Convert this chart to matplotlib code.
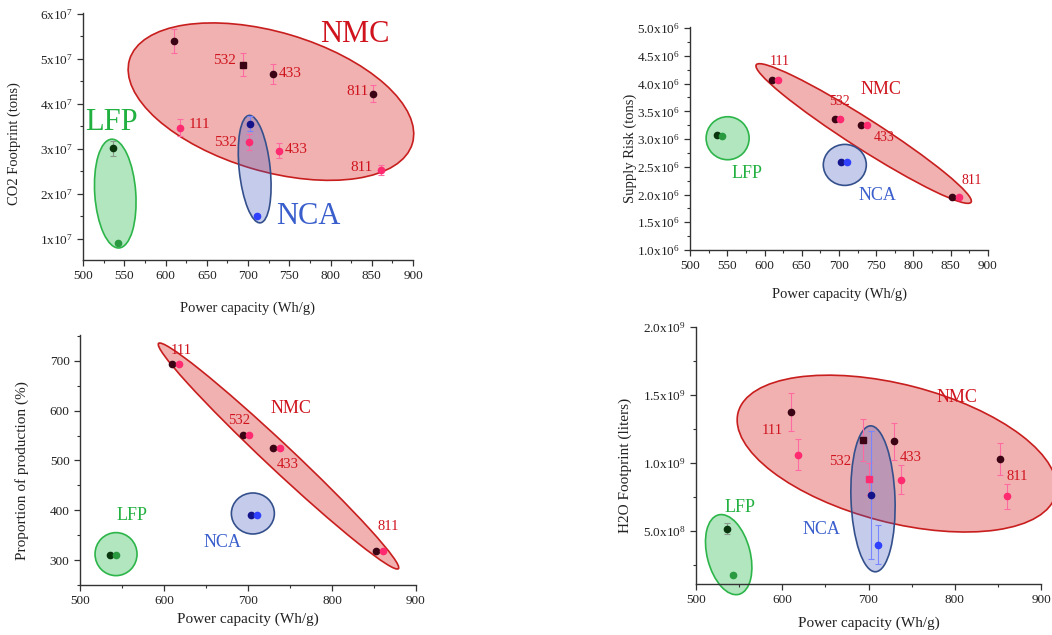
import numpy as np
import matplotlib
matplotlib.use("Agg")
import matplotlib.pyplot as plt
from matplotlib.patches import Ellipse
from matplotlib.transforms import ScaledTranslation
from matplotlib.ticker import MultipleLocator, FixedLocator

plt.rcParams['font.family'] = ['Liberation Serif', 'DejaVu Serif']
plt.rcParams['mathtext.default'] = 'regular'

# power capacity (Wh/g) of each chemistry, two cases per chemistry
nmc_grades = ["111", "532", "433", "811"]
x_nmc_a = [610, 694, 730, 852]
x_nmc_b = [618, 701, 738, 861]
x_nca = [703, 711]
x_lfp = [536, 543]

# CO2 footprint (tons)
co2_nmc_a = [5.40e7, 4.87e7, 4.67e7, 4.23e7]
co2_nmc_a_err = [0.26e7, 0.25e7, 0.22e7, 0.19e7]
co2_nmc_b = [3.47e7, 3.15e7, 2.96e7, 2.53e7]
co2_nmc_b_err = [0.19e7, 0.17e7, 0.16e7, 0.12e7]
co2_nca = [3.56e7, 1.51e7]
co2_nca_err = [0.17e7, 0.05e7]
co2_lfp = [3.01e7, 0.91e7]
co2_lfp_err = [0.16e7, 0.03e7]

# supply risk (tons)
risk_nmc = [4.06e6, 3.36e6, 3.25e6, 1.96e6]
risk_nca = [2.59e6, 2.58e6]
risk_lfp = [3.07e6, 3.06e6]

# proportion of production (%)
prod_nmc = [694, 551, 525, 319]
prod_nca = [390, 390]
prod_lfp = [311, 311]

# H2O footprint (liters)
h2o_nmc_a = [1.375e9, 1.167e9, 1.159e9, 1.029e9]
h2o_nmc_a_err = [0.143e9, 0.156e9, 0.135e9, 0.119e9]
h2o_nmc_b = [1.061e9, 0.885e9, 0.877e9, 0.755e9]
h2o_nmc_b_err = [0.113e9, 0.118e9, 0.107e9, 0.09e9]
h2o_nca = [0.765e9, 0.40e9]
h2o_nca_err = [0.468e9, 0.142e9]
h2o_lfp = [0.515e9, 0.179e9]
h2o_lfp_err = [0.04e9, 0.01e9]

RED = '#d0141e'
GREEN = '#22b040'
BLUE = '#3a5fcd'

fig = plt.figure(figsize=(10.52, 6.35), dpi=100)


def style_axes(ax, xmaj, xmin, ymaj, ymin):
    for s in ['top', 'right']:
        ax.spines[s].set_visible(False)
    for s in ['left', 'bottom']:
        ax.spines[s].set_color('#333333')
        ax.spines[s].set_linewidth(1.0)
    ax.xaxis.set_major_locator(MultipleLocator(xmaj))
    ax.xaxis.set_minor_locator(MultipleLocator(xmin))
    ax.yaxis.set_major_locator(MultipleLocator(ymaj))
    ax.yaxis.set_minor_locator(MultipleLocator(ymin))
    ax.tick_params(which='major', direction='out', length=4, width=0.9,
                   labelsize=9.5, colors='#333333', labelcolor='#222222')
    ax.tick_params(which='minor', direction='out', length=2, width=0.8,
                   colors='#333333')


def blob(ax, cx, cy, w, h, ang, face, edge):
    # ellipse centred on a data point, sized in pixels
    tr = fig.dpi_scale_trans + ScaledTranslation(cx, cy, ax.transData)
    e = Ellipse((0, 0), w / 100, h / 100, angle=ang, transform=tr,
                facecolor=face, edgecolor=edge, lw=1.2, clip_on=False, zorder=1)
    ax.add_patch(e)


def pts(ax, x, y, err, c_dark, c_light, c_err, square=()):
    for i in range(len(x)):
        col = c_dark if i % 2 == 0 else c_light
        mk = 's' if i in square else 'o'
        ax.errorbar(x[i], y[i], yerr=None if err is None else err[i], fmt=mk,
                    ms=4.5 if mk == 'o' else 4, color=col, mec=col,
                    ecolor=c_err, elinewidth=0.8, capsize=2, capthick=0.8,
                    zorder=3, clip_on=False)


NMC_FACE = (0.86, 0.2, 0.2, 0.38)
LFP_FACE = (0.2, 0.75, 0.35, 0.38)
NCA_FACE = (0.25, 0.35, 0.75, 0.30)
NMC_EDGE = '#c81e1e'
LFP_EDGE = '#2db54a'
NCA_EDGE = '#34508c'

NMC_DARK, NMC_PINK, NMC_ERR = '#3a0414', '#ff2a70', '#ff6aa0'
NCA_DARK, NCA_BLUE, NCA_ERR = '#14148a', '#3040ff', '#7a86ff'
LFP_DARK, LFP_GRN, LFP_ERR = '#0a360e', '#2a9a40', '#8a9a8a'

# ---------------- CO2 footprint ----------------
ax1 = fig.add_axes([83 / 1052, 1 - 260 / 635, 330 / 1052, 247 / 635])
style_axes(ax1, 50, 25, 1e7, 0.5e7)
ax1.set_xlim(500, 900)
ax1.set_ylim(0.53e7, 6.02e7)
ax1.yaxis.set_major_formatter(plt.FuncFormatter(
    lambda v, p: '%dx10$^{7}$' % round(v / 1e7)))
blob(ax1, 727.8, 4.05e7, 295, 139, -16.5, NMC_FACE, NMC_EDGE)
blob(ax1, 539.1, 2.006e7, 41, 109, 4, LFP_FACE, LFP_EDGE)
blob(ax1, 708.1, 2.55e7, 31, 108, 6, NCA_FACE, NCA_EDGE)
pts(ax1, x_nmc_a, co2_nmc_a, co2_nmc_a_err, NMC_DARK, NMC_DARK, NMC_ERR, square=(1,))
pts(ax1, x_nmc_b, co2_nmc_b, co2_nmc_b_err, NMC_PINK, NMC_PINK, NMC_ERR)
pts(ax1, x_nca, co2_nca, co2_nca_err, NCA_DARK, NCA_BLUE, NCA_ERR)
pts(ax1, x_lfp, co2_lfp, co2_lfp_err, LFP_DARK, LFP_GRN, LFP_ERR)
for t, x, y in [("532", 672, 4.96e7), ("433", 751, 4.68e7), ("811", 833, 4.27e7),
                ("111", 641, 3.54e7), ("532", 673, 3.15e7), ("433", 759, 2.98e7),
                ("811", 837, 2.59e7)]:
    ax1.text(x, y, t, color=RED, fontsize=11, ha='center', va='center', zorder=4)
ax1.text(829, 5.55e7, "NMC", color=RED, fontsize=22, ha='center', va='center')
ax1.text(534, 3.58e7, "LFP", color=GREEN, fontsize=22, ha='center', va='center')
ax1.text(773, 1.49e7, "NCA", color=BLUE, fontsize=22, ha='center', va='center')
ax1.set_xlabel("Power capacity (Wh/g)", fontsize=10.5, color='#222222')
ax1.set_ylabel("CO2 Footprint (tons)", fontsize=10.5, color='#222222')
ax1.xaxis.set_label_coords(0.5, -0.170)
ax1.yaxis.set_label_coords(-0.188, 0.47)

# ---------------- Supply risk ----------------
ax2 = fig.add_axes([690 / 1052, 1 - 250 / 635, 298 / 1052, 223 / 635])
style_axes(ax2, 50, 25, 0.5e6, 0.25e6)
ax2.set_xlim(500, 900)
ax2.set_ylim(1.0e6, 5.02e6)
ax2.yaxis.set_major_formatter(plt.FuncFormatter(
    lambda v, p: '%.1fx10$^{6}$' % (v / 1e6)))
blob(ax2, 733.1, 3.10e6, 255, 30, -32.6, NMC_FACE, NMC_EDGE)
blob(ax2, 550.5, 3.015e6, 43, 43, 0, LFP_FACE, LFP_EDGE)
blob(ax2, 707.8, 2.534e6, 43, 41, 0, NCA_FACE, NCA_EDGE)
pts(ax2, x_nmc_a, risk_nmc, None, NMC_DARK, NMC_DARK, NMC_ERR)
pts(ax2, x_nmc_b, risk_nmc, None, NMC_PINK, NMC_PINK, NMC_ERR)
pts(ax2, x_nca, risk_nca, None, NCA_DARK, NCA_BLUE, NCA_ERR)
pts(ax2, x_lfp, risk_lfp, None, LFP_DARK, LFP_GRN, LFP_ERR)
for t, x, y in [("111", 621, 4.39e6), ("532", 700, 3.68e6), ("433", 760, 3.03e6),
                ("811", 878, 2.26e6)]:
    ax2.text(x, y, t, color=RED, fontsize=10, ha='center', va='center', zorder=4)
ax2.text(756, 3.90e6, "NMC", color=RED, fontsize=13, ha='center', va='center')
ax2.text(576, 2.38e6, "LFP", color=GREEN, fontsize=13, ha='center', va='center')
ax2.text(752, 1.98e6, "NCA", color=BLUE, fontsize=13, ha='center', va='center')
ax2.set_xlabel("Power capacity (Wh/g)", fontsize=10.5, color='#222222')
ax2.set_ylabel("Supply Risk (tons)", fontsize=10.5, color='#222222')
ax2.xaxis.set_label_coords(0.5, -0.166)
ax2.yaxis.set_label_coords(-0.178, 0.457)

# ---------------- Proportion of production ----------------
ax3 = fig.add_axes([80 / 1052, 1 - 585 / 635, 336 / 1052, 250 / 635])
style_axes(ax3, 100, 50, 100, 50)
ax3.set_xlim(500, 900)
ax3.set_ylim(250, 752)
blob(ax3, 736.3, 509, 329, 26, -43.2, NMC_FACE, NMC_EDGE)
blob(ax3, 542.9, 312, 42, 43, 0, LFP_FACE, LFP_EDGE)
blob(ax3, 705.8, 393.6, 43, 41, 0, NCA_FACE, NCA_EDGE)
pts(ax3, x_nmc_a, prod_nmc, None, NMC_DARK, NMC_DARK, NMC_ERR)
pts(ax3, x_nmc_b, prod_nmc, None, NMC_PINK, NMC_PINK, NMC_ERR)
pts(ax3, x_nca, prod_nca, None, NCA_DARK, NCA_BLUE, NCA_ERR)
pts(ax3, x_lfp, prod_lfp, None, LFP_DARK, LFP_GRN, LFP_ERR)
for t, x, y in [("111", 620, 720), ("532", 689, 581), ("433", 747, 491),
                ("811", 867, 367)]:
    ax3.text(x, y, t, color=RED, fontsize=10.5, ha='center', va='center', zorder=4)
ax3.text(751, 604, "NMC", color=RED, fontsize=13, ha='center', va='center')
ax3.text(562, 390, "LFP", color=GREEN, fontsize=13, ha='center', va='center')
ax3.text(670, 335, "NCA", color=BLUE, fontsize=13, ha='center', va='center')
ax3.set_xlabel("Power capacity (Wh/g)", fontsize=11, color='#222222')
ax3.set_ylabel("Proportion of production (%)", fontsize=11, color='#222222')
ax3.xaxis.set_label_coords(0.5, -0.112)
ax3.yaxis.set_label_coords(-0.152, 0.457)

# ---------------- H2O footprint ----------------
ax4 = fig.add_axes([696 / 1052, 1 - 584 / 635, 345 / 1052, 257 / 635])
style_axes(ax4, 100, 50, 0.5e9, 0.25e9)
ax4.set_xlim(500, 900)
ax4.set_ylim(0.11e9, 2.0e9)
ax4.yaxis.set_major_locator(FixedLocator([0.5e9, 1.0e9, 1.5e9, 2.0e9]))
ax4.yaxis.set_major_formatter(plt.FuncFormatter(
    lambda v, p: '5.0x10$^{8}$' if v < 0.9e9 else '%.1fx10$^{9}$' % (v / 1e9)))
blob(ax4, 732.9, 1.069e9, 328, 138, -14.5, NMC_FACE, NMC_EDGE)
blob(ax4, 705.2, 0.7365e9, 44, 146, 2, NCA_FACE, NCA_EDGE)
blob(ax4, 537.9, 0.326e9, 43, 82, 14.5, LFP_FACE, LFP_EDGE)
pts(ax4, x_nmc_a, h2o_nmc_a, h2o_nmc_a_err, NMC_DARK, NMC_DARK, NMC_ERR, square=(1,))
pts(ax4, x_nmc_b, h2o_nmc_b, h2o_nmc_b_err, NMC_PINK, NMC_PINK, NMC_ERR, square=(1,))
pts(ax4, x_nca, h2o_nca, h2o_nca_err, NCA_DARK, NCA_BLUE, NCA_ERR)
pts(ax4, x_lfp, h2o_lfp, h2o_lfp_err, LFP_DARK, LFP_GRN, LFP_ERR)
for t, x, y in [("111", 589, 1.24e9), ("532", 667, 1.012e9), ("433", 749, 1.037e9),
                ("811", 872, 0.902e9)]:
    ax4.text(x, y, t, color=RED, fontsize=10.5, ha='center', va='center', zorder=4)
ax4.text(802, 1.485e9, "NMC", color=RED, fontsize=13, ha='center', va='center')
ax4.text(551, 0.669e9, "LFP", color=GREEN, fontsize=13, ha='center', va='center')
ax4.text(646, 0.51e9, "NCA", color=BLUE, fontsize=13, ha='center', va='center')
ax4.set_xlabel("Power capacity (Wh/g)", fontsize=11, color='#222222')
ax4.set_ylabel("H2O Footprint (liters)", fontsize=11, color='#222222')
ax4.xaxis.set_label_coords(0.5, -0.125)
ax4.yaxis.set_label_coords(-0.186, 0.46)

fig.savefig("out.png", dpi=100)
